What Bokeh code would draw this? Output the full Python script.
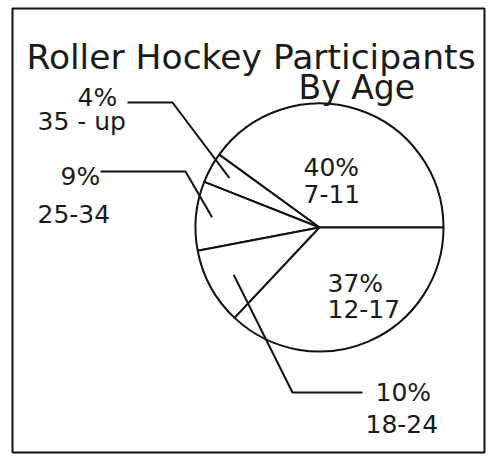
import math
from bokeh.plotting import figure
from bokeh.models import Range1d
from bokeh.core.properties import value
from bokeh.embed import file_html
from bokeh.resources import INLINE

# ---- data ----
categories = ["7-11", "35 - up", "25-34", "18-24", "12-17"]
percents = [40, 4, 9, 10, 37]
title_lines = ["Roller Hockey Participants", "By Age"]

# ---- layout (screen px -> data; y flipped) ----
W, H = 486, 454
X0, X1 = 12, 484
TOP, BOT = 8, 452


def sy(v):
    return BOT - v


p = figure(width=W, height=H, output_backend="svg", toolbar_location=None,
           x_range=Range1d(X0, X1), y_range=Range1d(0, BOT - TOP),
           x_axis_location=None, y_axis_location=None,
           min_border_left=X0, min_border_right=W - X1, min_border_top=TOP,
           min_border_bottom=H - BOT)
p.grid.visible = False
p.outline_line_color = "#111111"
p.outline_line_width = 2
p.background_fill_color = "white"
p.border_fill_color = "white"

cx, cy, R = 319, sy(227), 124

# wedges from data
total = sum(percents)
starts, ends = [], []
acc = 0.0
for v in percents:
    starts.append(2 * math.pi * acc / total)
    acc += v
    ends.append(2 * math.pi * acc / total)

p.wedge(x=[cx] * len(percents), y=[cy] * len(percents), radius=R,
        start_angle=starts, end_angle=ends,
        fill_color="white", line_color="#111111", line_width=2)

font = value("DejaVu Sans")
ink = "#1a1a1a"

# title
p.text(x=[26], y=[sy(56)], text=[title_lines[0]], text_font=font, text_font_size="34.5px",
       text_color=ink, text_baseline="alphabetic", text_align="left")
p.text(x=[298], y=[sy(87)], text=[title_lines[1]], text_font=font, text_font_size="33px",
       text_color=ink, text_baseline="alphabetic", text_align="left")

# label positions (x, baseline) for percent and category lines
pct_pos = [(303, 167), (77, 97), (60, 176), (375, 392), (327, 283)]
cat_pos = [(303, 193), (37, 121), (37, 213), (365, 423), (327, 308)]
pct_text = [f"{v}%" for v in percents]

p.text(x=[q[0] for q in pct_pos], y=[sy(q[1]) for q in pct_pos], text=pct_text,
       text_font=font, text_font_size="25px", text_color=ink,
       text_baseline="alphabetic", text_align="left")
p.text(x=[q[0] for q in cat_pos], y=[sy(q[1]) for q in cat_pos], text=categories,
       text_font=font, text_font_size="25px", text_color=ink,
       text_baseline="alphabetic", text_align="left")

# leader lines: label start, elbow, then into slice at mid-angle
leaders = {1: ((127, 102), (172, 102), 0.83),
           2: ((100, 171), (185, 171), 0.87),
           3: ((362, 392), (292, 392), 0.79)}
xs, ys = [], []
for i, (a, b, frac) in leaders.items():
    mid = (starts[i] + ends[i]) / 2
    ex = cx + frac * R * math.cos(mid)
    ey = cy + frac * R * math.sin(mid)
    xs.append([a[0], b[0], ex])
    ys.append([sy(a[1]), sy(b[1]), ey])
p.multi_line(xs=xs, ys=ys, line_color="#111111", line_width=2)

open("out.html", "w").write(file_html(p, INLINE))
